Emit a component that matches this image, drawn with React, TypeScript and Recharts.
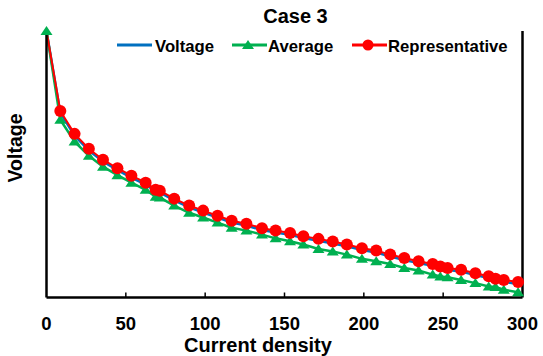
import { LineChart, Line, XAxis, YAxis } from "recharts";

// current density (x) for each measured point
const currentDensity = [
  0, 8.7, 17.7, 26.7, 35.6, 44.7, 53.5, 62.5, 68.8, 71.4, 80.5, 89.9, 98.7,
  107.8, 116.7, 126, 135.8, 144.4, 153.5, 161.9, 171.4, 180.4, 189.3, 198.8,
  207.8, 216.6, 225.5, 234.5, 243.4, 248.2, 252.8, 261.3, 270.3, 278.7, 283,
  288.2, 297.2,
];

// normalised voltage (no y scale shown)
const voltage = [
  1.0, 0.693, 0.607, 0.551, 0.51, 0.478, 0.45, 0.424, 0.397, 0.394, 0.364,
  0.338, 0.319, 0.3, 0.281, 0.27, 0.253, 0.244, 0.235, 0.223, 0.213, 0.203,
  0.192, 0.178, 0.169, 0.154, 0.141, 0.129, 0.119, 0.109, 0.104, 0.097, 0.084,
  0.073, 0.063, 0.059, 0.051,
];

const average = [
  1.0, 0.667, 0.585, 0.532, 0.491, 0.459, 0.431, 0.404, 0.378, 0.375, 0.345,
  0.318, 0.3, 0.281, 0.262, 0.251, 0.236, 0.222, 0.211, 0.199, 0.182, 0.173,
  0.161, 0.145, 0.136, 0.126, 0.111, 0.101, 0.086, 0.079, 0.076, 0.066, 0.054,
  0.041, 0.039, 0.029, 0.02,
];

const representative = [
  1.0, 0.7, 0.614, 0.558, 0.517, 0.485, 0.457, 0.431, 0.404, 0.401, 0.371,
  0.345, 0.326, 0.307, 0.288, 0.277, 0.26, 0.251, 0.242, 0.23, 0.22, 0.21,
  0.199, 0.185, 0.176, 0.161, 0.148, 0.136, 0.126, 0.116, 0.111, 0.104, 0.091,
  0.08, 0.07, 0.066, 0.058,
];

const xTicks = [0, 50, 100, 150, 200, 250, 300];

const data = currentDensity.map((x, i) => ({
  x,
  voltage: voltage[i],
  average: average[i],
  representative: representative[i],
}));

const BLUE = "#0070C0";
const GREEN = "#00B050";
const RED = "#FF0000";
const FONT = "'Liberation Sans', Arial, sans-serif";

const XTick = (props: any) => {
  const { x, y, payload } = props;
  const v = payload.value;
  return (
    <g>
      {v > 0 && v < 300 && (
        <line x1={x} x2={x} y1={y} y2={y - 5} stroke="#000" strokeWidth={1.5} />
      )}
      <text
        x={x}
        y={y + 32.5}
        textAnchor="middle"
        fontFamily={FONT}
        fontWeight="bold"
        fontSize={18.5}
        fill="#000"
      >
        {v}
      </text>
    </g>
  );
};

const Triangle = (props: any) => {
  const { cx, cy, index } = props;
  if (cx == null || cy == null) return <g key={index} />;
  return (
    <polygon
      key={index}
      points={`${cx},${cy - 5} ${cx + 6},${cy + 4} ${cx - 6},${cy + 4}`}
      fill={GREEN}
    />
  );
};

const Circle = (props: any) => {
  const { cx, cy, index } = props;
  if (cx == null || cy == null || index === 0) return <g key={index} />;
  return <circle key={index} cx={cx} cy={cy} r={6} fill={RED} />;
};

export default function App() {
  return (
    <div style={{ position: "relative", width: 543, height: 356 }}>
      <style>{`body{margin:0}`}</style>
      <LineChart
        width={543}
        height={356}
        data={data}
        margin={{ top: 31, right: 0, left: 0, bottom: 0 }}
      >
        <XAxis
          dataKey="x"
          type="number"
          domain={[0, 300]}
          ticks={xTicks}
          tickSize={0}
          tickMargin={0}
          tick={<XTick />}
          height={58.5}
          axisLine={{ stroke: "#000", strokeWidth: 2.5 }}
        />
        <XAxis
          xAxisId="top"
          dataKey="x"
          type="number"
          domain={[0, 300]}
          orientation="top"
          height={0}
          tick={false}
          tickLine={false}
          axisLine={{ stroke: "#000", strokeWidth: 2.5 }}
        />
        <YAxis
          type="number"
          domain={[0, 1]}
          width={46.5}
          tick={false}
          tickLine={false}
          axisLine={{ stroke: "#000", strokeWidth: 2.5 }}
        />
        <YAxis
          yAxisId="right"
          orientation="right"
          type="number"
          domain={[0, 1]}
          width={20.5}
          tick={false}
          tickLine={false}
          axisLine={{ stroke: "#000", strokeWidth: 2.5 }}
        />
        <Line
          dataKey="voltage"
          stroke={BLUE}
          strokeWidth={2.5}
          dot={false}
          activeDot={false}
          isAnimationActive={false}
        />
        <Line
          dataKey="average"
          stroke={GREEN}
          strokeWidth={2.5}
          dot={Triangle}
          activeDot={false}
          isAnimationActive={false}
        />
        <Line
          dataKey="representative"
          stroke={RED}
          strokeWidth={2}
          dot={Circle}
          activeDot={false}
          isAnimationActive={false}
        />
      </LineChart>
      <svg
        width={543}
        height={356}
        style={{ position: "absolute", left: 0, top: 0, pointerEvents: "none" }}
        fontFamily={FONT}
        fontWeight="bold"
      >
        <text x={295.5} y={23} textAnchor="middle" fontSize={20} fill="#000">
          Case 3
        </text>
        <text x={258} y={351.5} textAnchor="middle" fontSize={20} fill="#000">
          Current density
        </text>
        <text
          x={22}
          y={148}
          textAnchor="middle"
          fontSize={19.5}
          fill="#000"
          transform="rotate(-90 22 148)"
        >
          Voltage
        </text>
        <g fontSize={16.7} fill="#000">
          <line x1={117} x2={152} y1={45} y2={45} stroke={BLUE} strokeWidth={3} />
          <text x={155} y={52}>Voltage</text>
          <line x1={232} x2={267} y1={45} y2={45} stroke={GREEN} strokeWidth={3} />
          <polygon points="248,40 254,49 242,49" fill={GREEN} />
          <text x={268} y={52}>Average</text>
          <line x1={352} x2={387} y1={45} y2={45} stroke={RED} strokeWidth={3} />
          <circle cx={368} cy={45} r={5.5} fill={RED} />
          <text x={388} y={52}>Representative</text>
        </g>
      </svg>
    </div>
  );
}
